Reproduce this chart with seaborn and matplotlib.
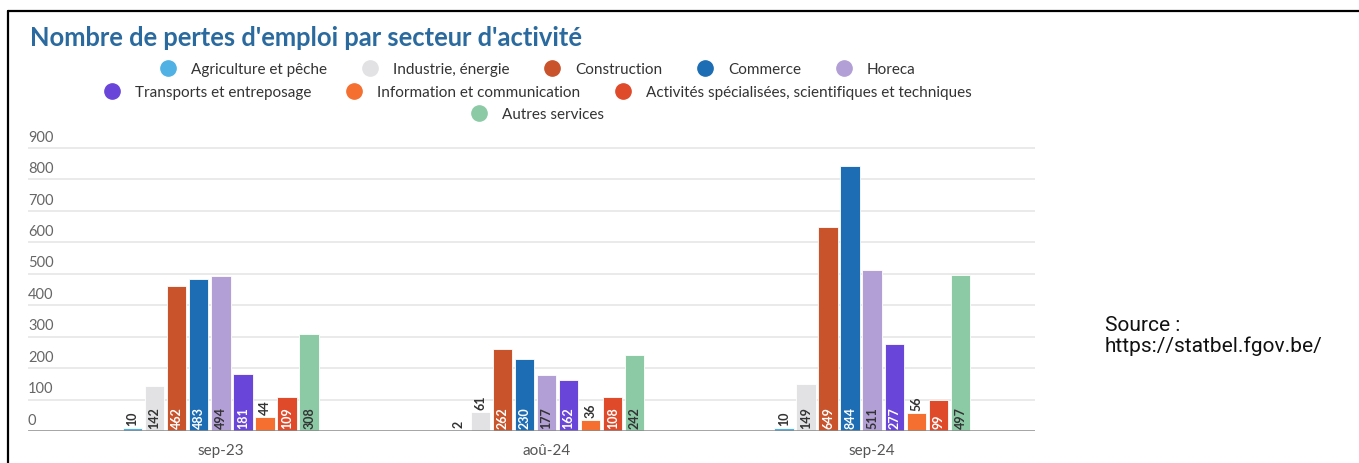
import matplotlib
matplotlib.use('Agg')
import matplotlib.pyplot as plt
import matplotlib.transforms as mtransforms
from matplotlib.lines import Line2D
from matplotlib.ticker import FixedLocator
import pandas as pd
import seaborn as sns

# Data
mois = ['sep-23', 'aoû-24', 'sep-24']
secteurs = ['Agriculture et pêche', 'Industrie, énergie', 'Construction', 'Commerce', 'Horeca',
            'Transports et entreposage', 'Information et communication',
            'Activités spécialisées, scientifiques et techniques', 'Autres services']
couleurs = ['#4fb1e4', '#e2e2e4', '#c9532b', '#1d6db4', '#b29fd5',
            '#6a45da', '#f46f30', '#df4a2a', '#8ccaa6']
agriculture = [10, 2, 10]
industrie = [142, 61, 149]
construction = [462, 262, 649]
commerce = [483, 230, 844]
horeca = [494, 177, 511]
transports = [181, 162, 277]
information = [44, 36, 56]
activites = [109, 108, 99]
autres = [308, 242, 497]
valeurs = [agriculture, industrie, construction, commerce, horeca,
           transports, information, activites, autres]

rows = []
for s, vals in zip(secteurs, valeurs):
    for m, v in zip(mois, vals):
        rows.append({'mois': m, 'secteur': s, 'valeur': v})
df = pd.DataFrame(rows)

sns.set_theme(style='white')
plt.rcParams['font.family'] = ['Lato', 'DejaVu Sans']

W, H = 1359, 464
fig = plt.figure(figsize=(W / 100, H / 100), dpi=100)
ax = fig.add_axes([28 / W, 32 / H, (1035 - 28) / W, 292.4 / H])

sns.barplot(data=df, x='mois', y='valeur', hue='secteur', order=mois, hue_order=secteurs,
            palette=couleurs, saturation=1, width=0.61, gap=0.12, legend=False, ax=ax,
            edgecolor='white', linewidth=0.6, zorder=2)

ax.set_xlim(-0.592, 2.5)
ax.set_ylim(0, 930)
for s in ax.spines.values():
    s.set_visible(False)
for v in range(100, 1000, 100):
    ax.axhline(v, color='#e4e4e4', lw=1.1, zorder=0)
ax.axhline(0, color='#8a8a8a', lw=1.8, zorder=3)

# y labels sit above the grid lines, at the left
ax.set_yticks([])
ax.set_ylabel('')
trans = mtransforms.blended_transform_factory(ax.transAxes, ax.transData)
for v in range(0, 1000, 100):
    ax.text(0.0, v + 14, str(v), transform=trans, ha='left', va='bottom',
            fontsize=10.5, color='#666666')

# category labels and separators
ax.set_xlabel('')
ax.set_xticks(range(len(mois)))
ax.set_xticklabels(mois, fontsize=11, color='#555555')
ax.tick_params(axis='x', which='major', length=0, pad=9)
ax.xaxis.set_minor_locator(FixedLocator([-0.5, 0.5, 1.5, 2.5]))
ax.tick_params(axis='x', which='minor', length=24, width=1, color='#9a9a9a', direction='out')

# value labels
sombres = {'#e2e2e4', '#b29fd5', '#8ccaa6'}
for cont, c in zip(ax.containers, couleurs):
    for bar in cont:
        h = bar.get_height()
        x = bar.get_x() + bar.get_width() / 2
        lab = f'{h:.0f}'
        if h >= 80:
            col = '#333333' if c in sombres else 'white'
            ax.text(x, 10, lab, rotation=90, ha='center', va='bottom', fontsize=9,
                    fontweight='bold', color=col, zorder=4)
        else:
            ax.text(x, h + 10, lab, rotation=90, ha='center', va='bottom', fontsize=9,
                    fontweight='bold', color='#333333', zorder=4)

# legend in three centred rows
handles = [Line2D([], [], marker='o', ls='', markersize=11, markerfacecolor=c,
                  markeredgecolor=c) for c in couleurs]
groupes = [(0, 5, 70), (5, 8, 93), (8, 9, 115)]
for a, b, ypix in groupes:
    leg = fig.legend(handles[a:b], secteurs[a:b], ncol=b - a, loc='center',
                     bbox_to_anchor=(538 / W, 1 - ypix / H), frameon=False, fontsize=11,
                     handlelength=1.0, handletextpad=1.0, columnspacing=2.3,
                     labelcolor='#333333', borderpad=0.1)

fig.text(30 / W, 1 - 38 / H, "Nombre de pertes d'emploi par secteur d'activité",
         fontsize=18.4, fontweight='bold', color='#2a6a9e', ha='left', va='center')

fig.text(1105 / W, 1 - 336 / H, 'Source :\nhttps://statbel.fgov.be/', family='Roboto',
         fontsize=15, color='#111111', ha='left', va='center', linespacing=1.1)

# frame around the screenshot
fig.add_artist(Line2D([8 / W, 1], [1 - 12 / H, 1 - 12 / H], transform=fig.transFigure,
                      color='black', lw=1.6))
fig.add_artist(Line2D([8 / W, 8 / W], [0, 1 - 12 / H], transform=fig.transFigure,
                      color='black', lw=1.6))

fig.savefig('out.png', dpi=100)
